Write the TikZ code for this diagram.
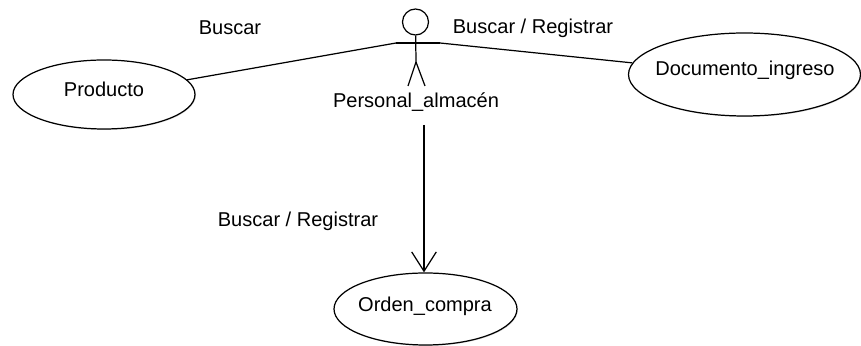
\documentclass[tikz,border=0pt]{standalone}
\usepackage{fontspec}
\setmainfont{Liberation Sans}
\usetikzlibrary{shapes.geometric, arrows.meta, shadows}
\tikzset{
	usecase/.style={draw, ellipse, line width=0.7pt, inner sep=0pt, fill=white, drop shadow={shadow xshift=0.5pt, shadow yshift=-0.5pt, opacity=0.3}},
	rolelabel/.style={inner sep=1pt, font=\fontsize{11.4}{13}\selectfont},
	openhead/.style={-{Straight Barb[length=11pt, width=14pt, line width=0.7pt]}}
}
\begin{document}
\begin{tikzpicture}[x=0.2mm, y=-0.2mm, line width=0.7pt]
	\useasboundingbox (0, 0) rectangle (861, 346);

	\node[usecase, minimum width=182*0.2mm, minimum height=69*0.2mm] (producto) at (104, 94.5) {};
	\node[usecase, minimum width=232*0.2mm, minimum height=83*0.2mm] (documento) at (744.5, 74.5) {};
	\node[usecase, minimum width=183*0.2mm, minimum height=72*0.2mm] (orden) at (425.5, 309) {};
	\node[rolelabel] (productotxt) at (104, 89) {Producto};
	\node[rolelabel] (documentotxt) at (745, 70) {Documento\_ingreso};
	\node[rolelabel] (ordentxt) at (425, 306) {Orden\_compra};

	\node[draw, circle, minimum size=26*0.2mm, inner sep=0pt] (head) at (415.5, 22) {};
	\coordinate (waist) at (416, 62);
	\coordinate (armleft) at (396, 43);
	\coordinate (armright) at (440, 43);
	\coordinate (footleft) at (408, 86);
	\coordinate (footright) at (425, 86);
	\node[rolelabel] (personal) at (416, 102) {Personal\_almacén};

	\node[rolelabel] (buscar) at (230, 28) {Buscar};
	\node[rolelabel] (buscarreg) at (533, 28) {Buscar / Registrar};
	\node[rolelabel] (buscarorden) at (298, 221) {Buscar / Registrar};

	\draw (head) -- (waist);
	\draw (waist) -- (footleft);
	\draw (waist) -- (footright);
	\draw (armleft) -- (armright);

	\path (armleft) edge (producto);
	\path (armright) edge (documento);
	\coordinate (start) at (424, 125);
	\draw[openhead] (start) -- (start |- orden.north);
\end{tikzpicture}
\end{document}
